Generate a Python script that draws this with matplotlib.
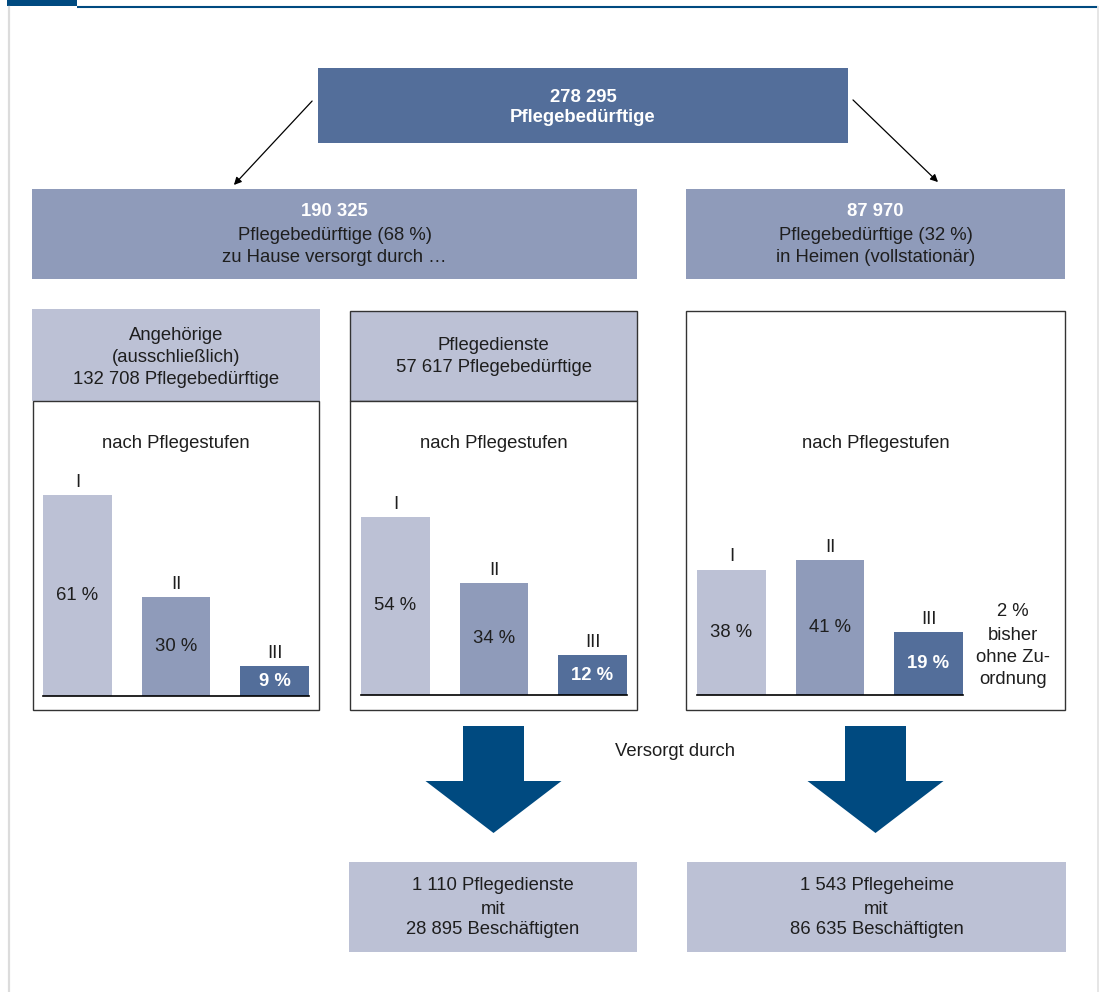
"""Pflegebedürftige nach Versorgungsart und Pflegestufen (Schaubild)."""

import matplotlib
matplotlib.use("Agg")
import matplotlib.pyplot as plt
from matplotlib.patches import Rectangle, Polygon

plt.rcParams.update({
    "font.family": ["Liberation Sans", "DejaVu Sans"],
    "font.size": 13.3,
})

W, H = 1101, 992

C_DARK = "#536e9a"
C_MID = "#8f9bba"
C_LIGHT = "#bcc1d5"
C_ARROW = "#004a80"
C_TEXT = "#1e1e1e"
C_BORDER = "#333333"

# data
GESAMT = 278295
ZU_HAUSE = 190325
ZU_HAUSE_ANTEIL = 68
HEIME_GESAMT = 87970
HEIME_ANTEIL = 32
ANGEHOERIGE_N = 132708
PFLEGEDIENSTE_N = 57617

STUFEN = ["I", "II", "III"]
ANTEIL_ANGEHOERIGE = [61, 30, 9]
ANTEIL_PFLEGEDIENSTE = [54, 34, 12]
ANTEIL_HEIME = [38, 41, 19]
OHNE_ZUORDNUNG = 2

ANZAHL_DIENSTE = 1110
BESCH_DIENSTE = 28895
ANZAHL_HEIME = 1543
BESCH_HEIME = 86635

BAR_COLORS = [C_LIGHT, C_MID, C_DARK]
PX_PER_PCT = 3.3


def fmt(n):
    return f"{n:,}".replace(",", " ")


def box(ax, x, y, w, h, color, edge=None):
    ax.add_patch(Rectangle((x, y), w, h, facecolor=color,
                           edgecolor=edge if edge else "none",
                           linewidth=1.0 if edge else 0, zorder=1))


def lines(ax, x, ys, texts, bold=(), color=C_TEXT):
    for i, (yy, t) in enumerate(zip(ys, texts)):
        b = i in bold
        ax.text(x, yy, t, ha="center", va="center",
                color="white" if b else color,
                fontweight="bold" if b else "normal", zorder=3)


def bar_panel(fig, left_px, baseline_px, values):
    width_px = 266
    height_px = 240
    ax = fig.add_axes([left_px / W, 1 - baseline_px / H, width_px / W, height_px / H])
    ax.patch.set_alpha(0)
    x = range(len(values))
    ax.bar(x, values, width=0.70, color=BAR_COLORS, zorder=2)
    ax.set_xlim(-0.35, 2.35)
    ax.set_ylim(0, height_px / PX_PER_PCT)
    for s in ("top", "left", "right"):
        ax.spines[s].set_visible(False)
    ax.spines["bottom"].set_linewidth(1.2)
    ax.spines["bottom"].set_color("black")
    ax.set_xticks([])
    ax.set_yticks([])
    for i, v in enumerate(values):
        ax.annotate(STUFEN[i], (i, v), xytext=(0, 3), textcoords="offset points",
                    ha="center", va="bottom", color=C_TEXT)
        last = i == len(values) - 1
        ax.text(i, v / 2, f"{v} %", ha="center", va="center",
                color="white" if last else C_TEXT,
                fontweight="bold" if last else "normal")
    return ax


def big_arrow(ax, cx):
    top, base, tip = 726, 781, 833
    pts = [(cx - 30.5, top), (cx + 30.5, top), (cx + 30.5, base), (cx + 68, base),
           (cx, tip), (cx - 68, base), (cx - 30.5, base)]
    ax.add_patch(Polygon(pts, closed=True, facecolor=C_ARROW, edgecolor="none", zorder=2))


def main():
    fig = plt.figure(figsize=(W / 100, H / 100), dpi=100)
    ax = fig.add_axes([0, 0, 1, 1])
    ax.set_xlim(0, W)
    ax.set_ylim(H, 0)
    ax.axis("off")

    # frame
    ax.add_patch(Rectangle((7, 0), 70, 6, facecolor=C_ARROW, edgecolor="none"))
    ax.plot([77, 1098], [6.5, 6.5], color=C_ARROW, lw=1.5, solid_capstyle="butt")
    ax.plot([8.5, 8.5], [7, H], color="#dcdcdc", lw=1.6)
    ax.plot([1097.5, 1097.5], [7, H], color="#e6e6e6", lw=1.4)

    # top
    box(ax, 318, 68, 530, 75, C_DARK)
    lines(ax, 583, [97, 118], [fmt(GESAMT), "Pflegebedürftige"], bold=(0, 1))
    ax.annotate("", xy=(232, 187), xytext=(314, 99),
                arrowprops=dict(arrowstyle="-|>", color="black", lw=0.9, mutation_scale=11))
    ax.annotate("", xy=(940, 184), xytext=(851, 98),
                arrowprops=dict(arrowstyle="-|>", color="black", lw=0.9, mutation_scale=11))

    # second row
    box(ax, 32, 189, 605, 90, C_MID)
    lines(ax, 334.5, [212, 236, 258],
          [fmt(ZU_HAUSE), f"Pflegebedürftige ({ZU_HAUSE_ANTEIL} %)", "zu Hause versorgt durch …"],
          bold=(0,))
    box(ax, 686, 189, 379, 90, C_MID)
    lines(ax, 875.5, [212, 236, 258],
          [fmt(HEIME_GESAMT), f"Pflegebedürftige ({HEIME_ANTEIL} %)", "in Heimen (vollstationär)"],
          bold=(0,))

    # third row: Angehörige
    box(ax, 32, 309, 288, 92, C_LIGHT)
    lines(ax, 176, [335, 358, 380],
          ["Angehörige", "(ausschließlich)", f"{fmt(ANGEHOERIGE_N)} Pflegebedürftige"])
    box(ax, 33, 401, 286, 309, "white", edge=C_BORDER)
    ax.text(176, 443, "nach Pflegestufen", ha="center", va="center", color=C_TEXT)

    # Pflegedienste
    box(ax, 350, 311, 287, 90, C_LIGHT, edge=C_BORDER)
    lines(ax, 493.5, [345, 367], ["Pflegedienste", f"{fmt(PFLEGEDIENSTE_N)} Pflegebedürftige"])
    box(ax, 350, 401, 287, 309, "white", edge=C_BORDER)
    ax.text(493.5, 443, "nach Pflegestufen", ha="center", va="center", color=C_TEXT)

    # Heime
    box(ax, 686, 311, 379, 399, "white", edge=C_BORDER)
    ax.text(875.5, 443, "nach Pflegestufen", ha="center", va="center", color=C_TEXT)
    lines(ax, 1013, [612, 635, 657, 680],
          [f"{OHNE_ZUORDNUNG} %", "bisher", "ohne Zu-", "ordnung"])

    bar_panel(fig, 43, 696, ANTEIL_ANGEHOERIGE)
    bar_panel(fig, 361, 695, ANTEIL_PFLEGEDIENSTE)
    bar_panel(fig, 697, 695, ANTEIL_HEIME)

    # bottom
    big_arrow(ax, 493.5)
    big_arrow(ax, 875.5)
    ax.text(675, 751, "Versorgt durch", ha="center", va="center", color=C_TEXT)

    box(ax, 349, 862, 288, 90, C_LIGHT)
    lines(ax, 493, [886, 909, 930],
          [f"{fmt(ANZAHL_DIENSTE)} Pflegedienste", "mit", f"{fmt(BESCH_DIENSTE)} Beschäftigten"])
    box(ax, 687, 862, 379, 90, C_LIGHT)
    lines(ax, 876.5, [886, 909, 930],
          [f"{fmt(ANZAHL_HEIME)} Pflegeheime", "mit", f"{fmt(BESCH_HEIME)} Beschäftigten"])

    fig.savefig("out.png", dpi=100)
    plt.close(fig)


if __name__ == "__main__":
    main()
